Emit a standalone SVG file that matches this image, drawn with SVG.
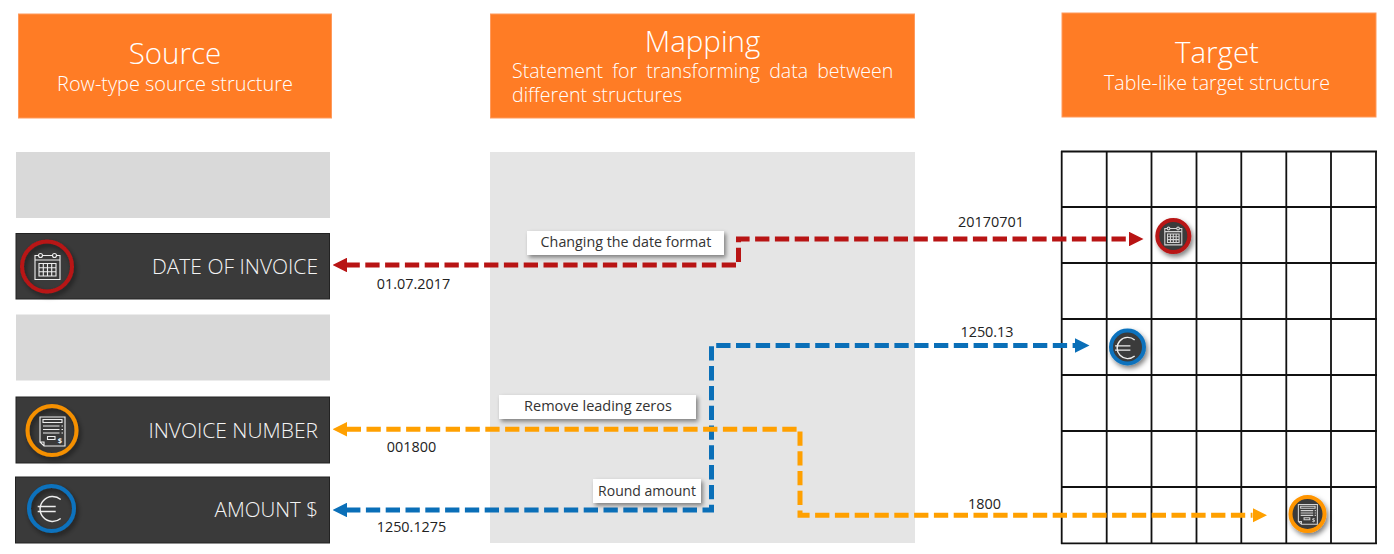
<svg xmlns="http://www.w3.org/2000/svg" width="1394" height="554" viewBox="0 0 1394 554">
<style>
text{font-family:"Open Sans","Liberation Sans",sans-serif;font-weight:300}
.hd{fill:#ff7c25;stroke:#ff9a5c;stroke-width:1}
.t{fill:#fff;font-size:29.500px;text-anchor:middle}
.s{fill:#fff;font-size:19.600px}
.m{text-anchor:middle}
.row{fill:#3a3a3a;stroke:#222;stroke-width:1}
.lt{fill:#d9d9d9}
.rt{fill:#f4f4f4;font-size:21px;text-anchor:end}
.lb{fill:#fff;filter:url(#sh)}
.lx{fill:#333;font-size:14.300px;text-anchor:middle;font-weight:400}
.v{fill:#222;font-size:14.400px;text-anchor:middle;font-weight:400}
.c{fill:none;stroke-width:5;stroke-dasharray:14.300 5.500}
.g{stroke:#111;stroke-width:1.800;fill:none}
.ic{fill:none;stroke:#eee;stroke-width:1.100}
.ic *{vector-effect:non-scaling-stroke}
.dk{fill:#3a3a3a;stroke-width:4;filter:url(#sh2)}
.no{fill:none;stroke-width:4;filter:url(#sh2)}
.dim{opacity:.85}
</style>
<defs>
<filter id="sh" x="-20%" y="-40%" width="140%" height="190%"><feDropShadow dx="2" dy="2.500" stdDeviation="2" flood-color="#000" flood-opacity=".45"/></filter>
<filter id="sh2" x="-30%" y="-30%" width="170%" height="170%"><feDropShadow dx="2" dy="3" stdDeviation="2.500" flood-color="#000" flood-opacity=".5"/></filter>
<g id="cal" class="ic"><rect x="-12.500" y="-11" width="25" height="24"/><path d="M-12.500-6.500H12.500M-6-11h12"/><circle cx="-7" cy="-11" r="2" fill="#3a3a3a"/><circle cx="7" cy="-11" r="2" fill="#3a3a3a"/><path d="M-8.500-3H8.500V9.500H-8.500ZM-8.500 1.200H8.500M-8.500 5.300H8.500M-4.200-3V9.500M0-3V9.500M4.200-3V9.500"/></g>
<g id="inv" class="ic"><path d="M-12-14H13V15H-8L-12 11ZM-12 11H-8V15"/><path d="M-9-11.500H10V-8.500H-9ZM-9-5H7.500M-9-1.500H7.500M-9 2H7.500M9.500-5h1.500M9.500-1.500h1.500M9.500 2h1.500M-4.500 5.500H3V8.500H-4.500Z"/><text x="8" y="11.500" style="font-size:7.500px;font-weight:700;fill:#eee;stroke:none;text-anchor:middle">$</text></g>
<g id="eur" class="ic" style="stroke-width:1.400"><path d="M9-9.500A12.500 12.500 0 1 0 9 9.500"/><path d="M-14-2.500H4M-14 2.500H4"/></g>
<marker id="ar" viewBox="0 0 14 14" refX="0" refY="7" markerWidth="14.500" markerHeight="14.500" markerUnits="userSpaceOnUse" orient="auto-start-reverse"><path d="M0 0L14 7L0 14Z" fill="context-stroke"/></marker>
</defs>

<g id="source-header"><rect class="hd" x="18.500" y="14" width="313" height="104"/><text class="t" x="175" y="64">Source</text><text class="s m" x="175" y="91" style="font-size:19.900px">Row-type source structure</text></g>
<g id="mapping-header"><rect class="hd" x="490.500" y="14" width="424" height="104"/><text class="t" x="702.500" y="52">Mapping</text><text class="s"><tspan x="512" y="78" style="word-spacing:4px">Statement for transforming data between</tspan><tspan x="512" y="102">different structures</tspan></text></g>
<g id="target-header"><rect class="hd" x="1062" y="13" width="314" height="104"/><text class="t" x="1217" y="63">Target</text><text class="s m" x="1217" y="90">Table-like target structure</text></g>

<rect id="mapping-area" x="490" y="152" width="425" height="391" fill="#e5e5e5"/>

<g id="row-empty-1"><rect class="lt" x="16" y="152" width="314" height="66"/></g>
<g id="row-date"><rect class="row" x="16" y="233.500" width="313.500" height="65.500"/><circle class="no" cx="47" cy="266.500" r="25" stroke="#b81414"/><use href="#cal" transform="translate(47.500 266.500)"/><text class="rt" x="318" y="274">DATE OF INVOICE</text></g>
<g id="row-empty-2"><rect class="lt" x="16" y="314.500" width="314" height="66"/></g>
<g id="row-invoice"><rect class="row" x="16" y="397" width="313.500" height="66"/><circle class="no" cx="52" cy="430.500" r="24.500" stroke="#f59000"/><use href="#inv" transform="translate(52 431)"/><text class="rt" x="318" y="438">INVOICE NUMBER</text></g>
<g id="row-amount"><rect class="row" x="15.500" y="477" width="314" height="66"/><circle class="no" cx="51.500" cy="508.500" r="22.500" stroke="#0a72bd"/><use href="#eur" transform="translate(51.700 509)"/><text class="rt" x="318" y="517" style="font-size:20.600px">AMOUNT $</text></g>

<g id="target-grid">
<path class="g" d="M1061.700 151V544M1106.700 151V544M1151.500 151V544M1196.500 151V544M1241.300 151V544M1286.300 151V544M1331 151V544M1376 151V544M1061 151.500H1377M1061 207H1377M1061 263H1377M1061 319H1377M1061 375H1377M1061 431H1377M1061 487H1377M1061 543.300H1377"/>
</g>

<g id="connectors">
<path class="c" stroke-dashoffset="1.500" d="M347 265H738.500V239H1129" stroke="#b81414" marker-start="url(#ar)" marker-end="url(#ar)"/>
<path class="c" stroke-dashoffset=".9" d="M347 510H711.500V345.500H1075" stroke="#0a6fb8" marker-start="url(#ar)" marker-end="url(#ar)"/>
<path class="c" stroke-dashoffset=".3" d="M347 429.300H800V515.300H1252.500" stroke="#ffa000" marker-start="url(#ar)" marker-end="url(#ar)"/>
</g>

<g id="label-date"><rect class="lb" x="527" y="231" width="197" height="24"/><text class="lx" x="626" y="247">Changing the date format</text></g>
<g id="label-zeros"><rect class="lb" x="499" y="395" width="197" height="24"/><text class="lx" x="598" y="411" style="font-size:14.500px">Remove leading zeros</text></g>
<g id="label-round"><rect class="lb" x="593" y="479" width="108" height="24"/><text class="lx" x="647" y="496" style="font-size:14px">Round amount</text></g>

<g id="values">
<text class="v" x="991" y="227">20170701</text>
<text class="v" x="413.500" y="289">01.07.2017</text>
<text class="v" x="987" y="337">1250.13</text>
<text class="v" x="411.500" y="452">001800</text>
<text class="v" x="984.500" y="509">1800</text>
<text class="v" x="411.500" y="532">1250.1275</text>
</g>

<g id="target-date"><circle class="dk" cx="1173.300" cy="236" r="16" stroke="#b81414"/><use class="dim" href="#cal" transform="translate(1173.300 236) scale(.68)"/></g>
<g id="target-amount"><circle class="dk" cx="1127.500" cy="347" r="16.500" stroke="#0a72bd"/><use href="#eur" transform="translate(1127 348) scale(.85)"/></g>
<g id="target-invoice"><circle class="dk" cx="1307.500" cy="514" r="17" stroke="#ff9500"/><use class="dim" href="#inv" transform="translate(1307.500 514) scale(.76 .68)"/></g>
</svg>
